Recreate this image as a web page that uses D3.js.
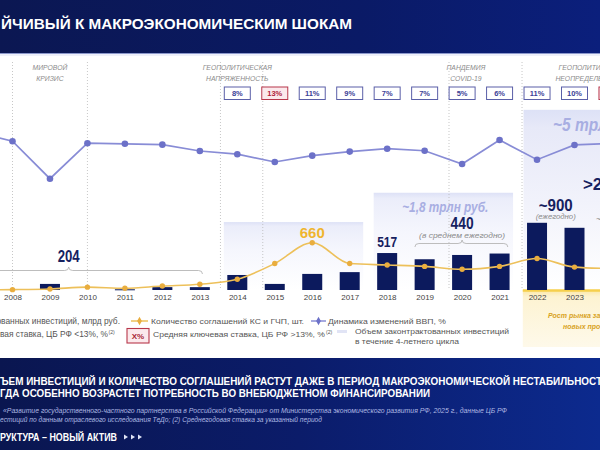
<!DOCTYPE html>
<html>
<head>
<meta charset="utf-8">
<script src="https://cdn.jsdelivr.net/npm/d3@7"></script>
<style>
  html, body { margin: 0; padding: 0; background: #fff; }
  svg { display: block; font-family: "Liberation Sans", Arial, sans-serif; }
</style>
</head>
<body>
<script>
// ---- data ----
// 2007 and 2024 only exist so the lines run off the left / right edge
const years = [2007, 2008, 2009, 2010, 2011, 2012, 2013, 2014, 2015, 2016, 2017, 2018, 2019, 2020, 2021, 2022, 2023, 2024];
const tickYears = [2008, 2009, 2010, 2011, 2012, 2013, 2014, 2015, 2016, 2017, 2018, 2019, 2020, 2021, 2022, 2023];
// contracted investments, bn rub
const investments = [null, null, 85, null, 10, 40, 40, 210, 85, 225, 250, 517, 430, 490, 510, 940, 870, null];
// number of concession / PPP agreements
const agreements = [0, 5, 15, 40, 25, 55, 80, 150, 370, 660, 370, 350, 330, 290, 330, 440, 320, 300];
// GDP change, %
const gdp = [8.5, 5.2, -7.8, 4.5, 4.3, 4.0, 1.8, 0.7, -2.0, 0.2, 1.6, 2.6, 1.9, -2.7, 5.6, -1.2, 3.9, 4.5];
// average key rate
const rateYears = [2014, 2015, 2016, 2017, 2018, 2019, 2020, 2021, 2022, 2023, 2024];
const rates = [8, 13, 11, 9, 7, 7, 5, 6, 11, 10, 17];
// shock periods
const shockLines = [2008, 2010, 2013.55, 2014.68, 2019.65, 2021.6];
const shockCenters = [2009, 2014, 2020.1, 2023.5];
const shockNames = [['МИРОВОЙ', 'КРИЗИС'], ['ГЕОПОЛИТИЧЕСКАЯ', 'НАПРЯЖЕННОСТЬ'], ['ПАНДЕМИЯ', 'COVID-19'], ['ГЕОПОЛИТИЧЕСКАЯ', 'НЕОПРЕДЕЛЕННОСТЬ']];
// 4-year cycles (first year, level of the shaded block in bn rub)
const cycleStarts = [2014, 2018, 2022];
const cycleLevels = [950, 1360, 2520];

const W = 600, H = 450;
const base = 290;

const svg = d3.select('body').append('svg')
  .attr('width', W)
  .attr('height', H);
const defs = svg.append('defs');

function grad(id, x2, y2, stops) {
  const g = defs.append('linearGradient').attr('id', id)
    .attr('x1', 0).attr('y1', 0).attr('x2', x2).attr('y2', y2);
  stops.forEach(s => g.append('stop').attr('offset', s[0]).attr('stop-color', s[1]));
}
grad('hdr', 1, 0, [[0, '#0b1752'], [0.6, '#0a1a66'], [1, '#0b1f7c']]);
grad('ftr', 1, 0, [[0, '#0a1650'], [0.5, '#0b1c6a'], [1, '#0c2a8e']]);
grad('cyc', 0, 1, [[0, '#dde1f6'], [0.06, '#ebedfa'], [0.4, '#f5f6fd'], [1, '#ffffff']]);
grad('cyc2', 0, 1, [[0, '#dde1f6'], [0.1, '#e7e9f8'], [0.5, '#f1f2fb'], [1, '#ffffff']]);
grad('cream', 0, 1, [[0, '#fbe7a6'], [0.12, '#fdf3d2'], [1, '#fef9ea']]);
grad('rule', 1, 0, [[0, '#9aa6dc'], [1, '#3d4fa3']]);

// ---- scales ----
const x = d3.scaleLinear().domain([2008, 2023]).range([12.5, 574.5]);
const yVal = d3.scaleLinear().domain([0, 1000]).range([base, base - 71.5]);
const yGdp = d3.scaleLinear().domain([-8, 6]).range([179.3, 138.9]);

function txt(g, px, py, s, o) {
  o = o || {};
  const t = g.append('text')
    .attr('x', px).attr('y', py)
    .attr('font-size', o.size || 8)
    .attr('fill', o.fill || '#555')
    .attr('text-anchor', o.anchor || 'start')
    .text(s);
  if (o.bold) t.attr('font-weight', 'bold');
  if (o.italic) t.attr('font-style', 'italic');
  if (o.len) t.attr('textLength', o.len).attr('lengthAdjust', 'spacingAndGlyphs');
  return t;
}

// ---- header ----
svg.append('rect').attr('x', 0).attr('y', 0).attr('width', W).attr('height', 53).attr('fill', 'url(#hdr)');
svg.append('line').attr('x1', 0).attr('x2', W).attr('y1', 53.5).attr('y2', 53.5).attr('stroke', '#8c98cc').attr('stroke-width', 1);
svg.append('rect').attr('x', 0).attr('y', 54).attr('width', W).attr('height', 2).attr('fill', '#eef0fa');
txt(svg, 1, 28.5, 'ЙЧИВЫЙ К МАКРОЭКОНОМИЧЕСКИМ ШОКАМ', { size: 15, bold: true, fill: '#fff', len: 351 });

// ---- cycle blocks ----
const chart = svg.append('g');
chart.selectAll('rect.cycle')
  .data(cycleStarts)
  .join('rect')
  .attr('class', 'cycle')
  .attr('x', d => x(d - 0.36))
  .attr('width', d => x(d + 3.36) - x(d - 0.36))
  .attr('y', (d, i) => yVal(cycleLevels[i]))
  .attr('height', (d, i) => base - yVal(cycleLevels[i]))
  .attr('fill', (d, i) => i === 2 ? 'url(#cyc2)' : 'url(#cyc)');

// cream area under the last cycle
chart.append('rect')
  .attr('x', x(2021.62)).attr('y', base)
  .attr('width', W - x(2021.62)).attr('height', 57)
  .attr('fill', 'url(#cream)');
chart.append('line')
  .attr('x1', x(2021.62)).attr('x2', W).attr('y1', base + 0.5).attr('y2', base + 0.5)
  .attr('stroke', '#f6cf4c').attr('stroke-width', 2.5);

// ---- shock separators and titles ----
chart.selectAll('line.shock')
  .data(shockLines)
  .join('line')
  .attr('x1', d => x(d)).attr('x2', d => x(d))
  .attr('y1', 62).attr('y2', base)
  .attr('stroke', '#b9b9b9')
  .attr('stroke-width', 0.8)
  .attr('stroke-dasharray', '1,2');

shockNames.forEach((lines, i) => {
  lines.forEach((l, j) => {
    txt(chart, x(shockCenters[i]), 69.5 + j * 11, l, { size: 6.8, italic: true, fill: '#8b8b8b', anchor: 'middle' });
  });
});

// ---- key rate boxes ----
const rateG = chart.selectAll('g.rate')
  .data(rateYears.map((yr, i) => ({ yr, v: rates[i] })))
  .join('g')
  .attr('class', 'rate');
rateG.append('rect')
  .attr('x', d => x(d.yr) - 13).attr('y', 87)
  .attr('width', 26).attr('height', 12.5)
  .attr('fill', d => d.v >= 13 ? '#fbe9ec' : '#fff')
  .attr('stroke', d => d.v >= 13 ? '#b8374b' : '#5a5fa8')
  .attr('stroke-width', 1);
rateG.append('text')
  .attr('x', d => x(d.yr)).attr('y', 96)
  .attr('text-anchor', 'middle')
  .attr('font-size', 7.5)
  .attr('font-weight', 'bold')
  .attr('fill', d => d.v >= 13 ? '#b0223a' : '#3c4196')
  .text(d => d.v + '%');

// ---- big cycle captions ----
txt(chart, x(2019.55), 212, '~1,8 трлн руб.', { size: 15, bold: true, italic: true, fill: '#a8aee2', anchor: 'middle', len: 86 });
txt(chart, 553, 131, '~5 трлн руб.', { size: 19, bold: true, italic: true, fill: '#a8aee2', len: 100 });

// ---- bars ----
const barData = years.map((yr, i) => ({ yr, v: investments[i] })).filter(d => d.v != null);
chart.selectAll('rect.bar')
  .data(barData)
  .join('rect')
  .attr('class', 'bar')
  .attr('x', d => x(d.yr) - 10)
  .attr('width', 20)
  .attr('y', d => yVal(d.v))
  .attr('height', d => Math.max(1, base - yVal(d.v)))
  .attr('fill', '#0c1a5d');

// ---- agreements line ----
const agrData = years.map((yr, i) => ({ yr, v: agreements[i] }));
chart.append('path')
  .datum(agrData)
  .attr('fill', 'none')
  .attr('stroke', '#edc05a')
  .attr('stroke-width', 1.6)
  .attr('d', d3.line().x(d => x(d.yr)).y(d => yVal(d.v)).curve(d3.curveMonotoneX));
chart.selectAll('circle.agr')
  .data(agrData)
  .join('circle')
  .attr('class', 'agr')
  .attr('cx', d => x(d.yr)).attr('cy', d => yVal(d.v))
  .attr('r', 2.7)
  .attr('fill', '#e9ad3e');

// ---- GDP line ----
const gdpData = years.map((yr, i) => ({ yr, v: gdp[i] }));
chart.append('path')
  .datum(gdpData)
  .attr('fill', 'none')
  .attr('stroke', '#888cd6')
  .attr('stroke-width', 1.7)
  .attr('d', d3.line().x(d => x(d.yr)).y(d => yGdp(d.v)));
chart.selectAll('circle.gdp')
  .data(gdpData)
  .join('circle')
  .attr('class', 'gdp')
  .attr('cx', d => x(d.yr)).attr('cy', d => yGdp(d.v))
  .attr('r', 3.3)
  .attr('fill', '#6c71c8');

// ---- axis ----
const axis = chart.append('g')
  .attr('transform', `translate(0,${base})`)
  .call(d3.axisBottom(x).tickValues(tickYears).tickFormat(d3.format('d')).tickSize(0).tickPadding(4));
axis.select('.domain').remove();
axis.selectAll('text').attr('font-size', 8).attr('fill', '#444').attr('font-family', '"Liberation Sans", Arial, sans-serif');

// ---- value callouts ----
function brace(g, x0, x1, xm, y) {
  const p = d3.path();
  p.moveTo(x0, y + 5);
  p.quadraticCurveTo(x0, y + 1.5, x0 + 4, y + 1.5);
  p.lineTo(xm - 4, y + 1.5);
  p.quadraticCurveTo(xm, y + 1.5, xm, y - 2);
  p.quadraticCurveTo(xm, y + 1.5, xm + 4, y + 1.5);
  p.lineTo(x1 - 4, y + 1.5);
  p.quadraticCurveTo(x1, y + 1.5, x1, y + 5);
  g.append('path').attr('d', p.toString()).attr('fill', 'none').attr('stroke', '#b5b5b5').attr('stroke-width', 0.9);
}
brace(chart, x(2007.2), x(2013.07), x(2009.5), 269);
txt(chart, x(2009.5), 262, '204', { size: 16, bold: true, fill: '#16215f', anchor: 'middle', len: 22 });

txt(chart, x(2016), 238, '660', { size: 15, bold: true, fill: '#efb52f', anchor: 'middle', len: 25 });
txt(chart, x(2018), 247, '517', { size: 15, bold: true, fill: '#16215f', anchor: 'middle', len: 20 });

brace(chart, x(2018.74), x(2021.22), x(2020), 242);
txt(chart, x(2020), 229, '440', { size: 16, bold: true, fill: '#16215f', anchor: 'middle', len: 23 });
txt(chart, x(2020), 237.5, '(в среднем ежегодно)', { size: 7, italic: true, fill: '#8a8a8a', anchor: 'middle', len: 86 });

txt(chart, x(2022.5), 211, '~900', { size: 16, bold: true, fill: '#16215f', anchor: 'middle', len: 34 });
txt(chart, x(2022.5), 219, '(ежегодно)', { size: 7, italic: true, fill: '#8a8a8a', anchor: 'middle', len: 40 });
txt(chart, 583, 190, '>2 000', { size: 16, bold: true, fill: '#16215f', len: 52 });
txt(chart, 596, 222, '~', { size: 9, fill: '#8a8a8a' });

txt(chart, 548, 318, 'Рост рынка за счет', { size: 7, bold: true, italic: true, fill: '#d8a21c' });
txt(chart, 563, 328.5, 'новых проектов', { size: 7, bold: true, italic: true, fill: '#d8a21c' });

// ---- legend ----
const lg = svg.append('g');
txt(lg, 120, 323.8, 'Объем законтрактованных инвестиций, млрд руб.', { size: 8.4, fill: '#555', anchor: 'end' });

lg.append('line').attr('x1', 131).attr('x2', 148).attr('y1', 321).attr('y2', 321).attr('stroke', '#edc05a').attr('stroke-width', 1.5);
lg.append('path').attr('d', d3.symbol(d3.symbolDiamond, 20)()).attr('transform', 'translate(139.5,321)').attr('fill', '#e9ad3e');
txt(lg, 151, 323.8, 'Количество соглашений КС и ГЧП, шт.', { size: 7.8, fill: '#555', len: 153 });

lg.append('line').attr('x1', 311).attr('x2', 326).attr('y1', 321).attr('y2', 321).attr('stroke', '#888cd6').attr('stroke-width', 1.5);
lg.append('path').attr('d', d3.symbol(d3.symbolDiamond, 20)()).attr('transform', 'translate(318.5,321)').attr('fill', '#6c71c8');
txt(lg, 328, 323.8, 'Динамика изменений ВВП, %', { size: 7.8, fill: '#555', len: 118 });

txt(lg, 108, 337, 'Средняя ключевая ставка, ЦБ РФ <13%, %', { size: 8.4, fill: '#555', anchor: 'end' });
lg.append('text').attr('x', 108.5).attr('y', 334).attr('font-size', 5.2).attr('fill', '#555').text('(2)');

lg.append('rect').attr('x', 127).attr('y', 328.5).attr('width', 22).attr('height', 14.5)
  .attr('fill', '#fbe9ec').attr('stroke', '#b8374b').attr('stroke-width', 1.1);
txt(lg, 138, 338.5, 'X%', { size: 8, bold: true, fill: '#a81e36', anchor: 'middle' });

txt(lg, 153, 337, 'Средняя ключевая ставка, ЦБ РФ >13%, %', { size: 7.8, fill: '#555', len: 172 });
lg.append('text').attr('x', 326).attr('y', 334).attr('font-size', 5.2).attr('fill', '#555').text('(2)');

lg.append('rect').attr('x', 337).attr('y', 330).attr('width', 10).attr('height', 3).attr('fill', '#e1e4f5');
txt(lg, 355, 334, 'Объем законтрактованных инвестиций', { size: 7.8, fill: '#555', len: 154 });
txt(lg, 355, 344, 'в течение 4-летнего цикла', { size: 7.8, fill: '#555', len: 104 });

// ---- footer ----
const ft = svg.append('g');
ft.append('rect').attr('x', 0).attr('y', 358).attr('width', W).attr('height', H - 358).attr('fill', 'url(#ftr)');
txt(ft, 0, 385, 'ЪЕМ ИНВЕСТИЦИЙ И КОЛИЧЕСТВО СОГЛАШЕНИЙ РАСТУТ ДАЖЕ В ПЕРИОД МАКРОЭКОНОМИЧЕСКОЙ НЕСТАБИЛЬНОСТ', { size: 11.5, bold: true, fill: '#fff', len: 602 });
txt(ft, 0, 397, 'ГДА ОСОБЕННО ВОЗРАСТЕТ ПОТРЕБНОСТЬ ВО ВНЕБЮДЖЕТНОМ ФИНАНСИРОВАНИИ', { size: 11.5, bold: true, fill: '#fff', len: 430 });
txt(ft, 3, 413, '«Развитие государственного-частного партнерства в Российской Федерации» от Министерства экономического развития РФ, 2025 г., данные ЦБ РФ', { size: 6.3, italic: true, fill: '#aeb8e2', len: 504 });
txt(ft, 0, 422, 'естиций по данным отраслевого исследования ТеДо; (2) Среднегодовая ставка за указанный период', { size: 6.3, italic: true, fill: '#aeb8e2', len: 322 });
txt(ft, 0, 441, 'РУКТУРА – НОВЫЙ АКТИВ', { size: 10.5, bold: true, fill: '#fff', len: 117 });
[124, 131, 138].forEach(px => {
  ft.append('path').attr('d', `M${px},434.5 L${px + 4},437 L${px},439.5 Z`).attr('fill', '#dfe3f5');
});
ft.append('line').attr('x1', 152).attr('x2', W).attr('y1', 437).attr('y2', 437).attr('stroke', 'url(#rule)').attr('stroke-width', 1.5);
</script>
</body>
</html>
